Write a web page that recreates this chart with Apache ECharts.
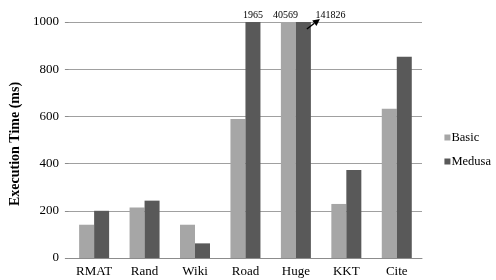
<!DOCTYPE html>
<html>
<head>
<meta charset="utf-8">
<script src="https://cdn.jsdelivr.net/npm/echarts@6/dist/echarts.min.js"></script>
<style>
  html, body { margin: 0; padding: 0; background: #fff; }
  #chart { width: 496px; height: 280px; }
</style>
</head>
<body>
<div id="chart"></div>
<script>
// data (bars above 1000 are clipped at the top)
var categories = ['RMAT', 'Rand', 'Wiki', 'Road', 'Huge', 'KKT', 'Cite'];
var basicValues = [141, 214, 141, 589, 40569, 229, 632];
var medusaValues = [200, 243, 62, 1965, 141826, 373, 853];
var yTicks = [0, 200, 400, 600, 800, 1000];

var serif = 'Liberation Serif';

function withLabels(values, who) {
    return values.map(function (v, i) {
        var item = { value: v };
        if (v > 1000) {
            item.label = {
                show: true,
                position: 'top',
                distance: 2,
                fontFamily: serif,
                fontSize: 10,
                color: '#000',
                formatter: String(v)
            };
            // the huge medusa value sits to the right, pointed at by an arrow
            if (who == 'medusa' && categories[i] == 'Huge') {
                item.label.offset = [27, 0];
            }
            if (who == 'basic' && categories[i] == 'Huge') {
                item.label.offset = [-3, 0];
            }
        }
        return item;
    });
}

var chart = echarts.init(document.getElementById('chart'));
var option = {
    animation: false,
    textStyle: { fontFamily: serif },
    grid: { left: 62, right: 74, top: 22, bottom: 22 },
    legend: {
        orient: 'vertical',
        right: 0,
        top: 126,
        itemWidth: 6,
        itemHeight: 6,
        itemGap: 11,
        icon: 'rect',
        textStyle: { fontFamily: serif, fontSize: 12.5, color: '#000', padding: [0, 0, 0, -4] },
        data: ['Basic', 'Medusa']
    },
    xAxis: {
        type: 'category',
        data: categories,
        axisLine: { lineStyle: { color: '#8c8c8c' } },
        axisTick: { length: 5, lineStyle: { color: '#8c8c8c' } },
        axisLabel: { fontFamily: serif, fontSize: 13, color: '#000', margin: 7 }
    },
    yAxis: {
        type: 'value',
        min: yTicks[0],
        max: yTicks[yTicks.length - 1],
        interval: 200,
        name: 'Execution Time (ms)',
        nameLocation: 'middle',
        nameGap: 34,
        nameTextStyle: {
            fontFamily: serif, fontSize: 14, fontWeight: 'bold', color: '#000',
            padding: [0, 8, 0, 0]
        },
        axisLine: { show: false },
        axisTick: { show: true, length: 4, lineStyle: { color: '#8c8c8c' } },
        axisLabel: {
            fontFamily: serif, fontSize: 13, color: '#000', margin: 10,
            formatter: function (v) { return String(v); }
        },
        splitLine: { lineStyle: { color: '#a0a0a0' } }
    },
    series: [
        {
            name: 'Basic',
            type: 'bar',
            barWidth: 15,
            barGap: '0%',
            itemStyle: { color: '#a6a6a6' },
            data: withLabels(basicValues, 'basic')
        },
        {
            name: 'Medusa',
            type: 'bar',
            barWidth: 15,
            barGap: '0%',
            itemStyle: { color: '#595959' },
            data: withLabels(medusaValues, 'medusa')
        }
    ]
};
chart.setOption(option);

// arrow from the clipped Huge/Medusa bar up to its label
var hugeTop = chart.convertToPixel({ gridIndex: 0 }, ['Huge', 1000]);
var x0 = hugeTop[0] + 11, y0 = hugeTop[1] + 7;
var x1 = hugeTop[0] + 24, y1 = hugeTop[1] - 3;
var ang = Math.atan2(y1 - y0, x1 - x0);
var L = 7, W = 3.5;
var bx = x1 - L * Math.cos(ang), by = y1 - L * Math.sin(ang);
chart.setOption({
    graphic: [
        {
            type: 'line',
            shape: { x1: x0, y1: y0, x2: bx, y2: by },
            style: { stroke: '#000', lineWidth: 1.5 },
            z: 100
        },
        {
            type: 'polygon',
            shape: {
                points: [
                    [x1, y1],
                    [bx - W * Math.sin(ang), by + W * Math.cos(ang)],
                    [bx + W * Math.sin(ang), by - W * Math.cos(ang)]
                ]
            },
            style: { fill: '#000' },
            z: 100
        }
    ]
});
</script>
</body>
</html>
